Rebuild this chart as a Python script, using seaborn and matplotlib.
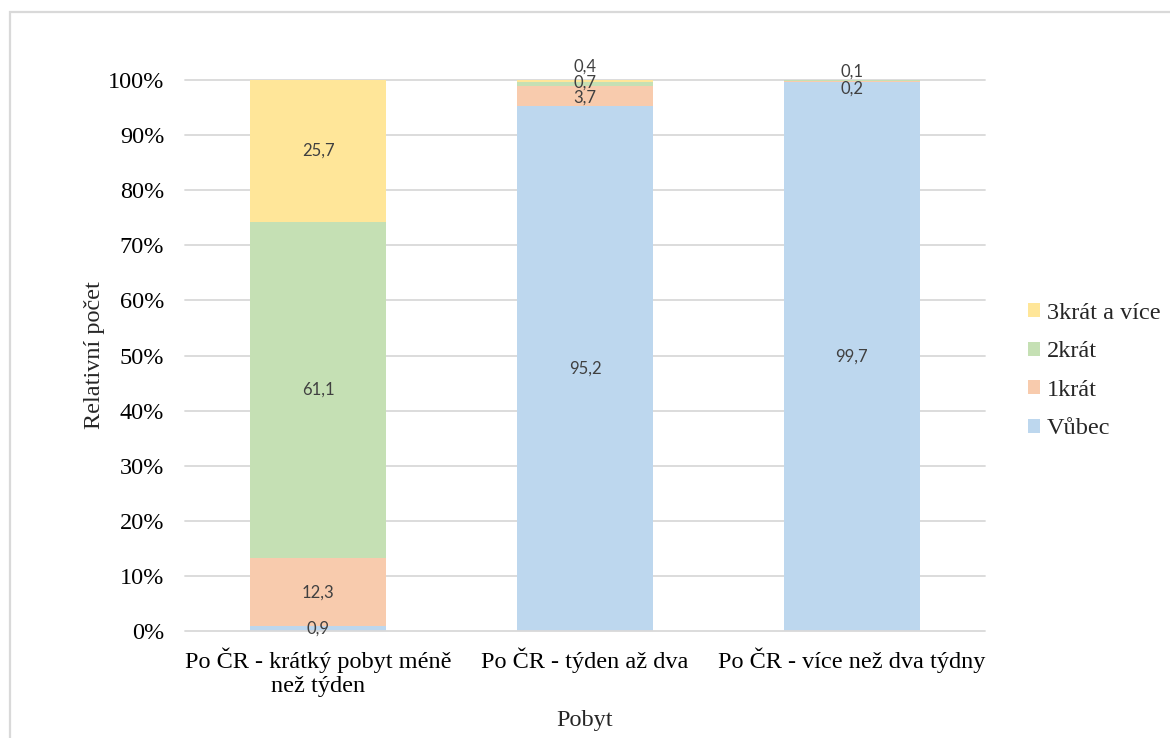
import numpy as np
import pandas as pd
import matplotlib
matplotlib.use("Agg")
import matplotlib.pyplot as plt
from matplotlib.patches import Patch, Rectangle
import seaborn as sns

# Stay categories and relative counts (%) for each answer
categories = [
    "Po ČR - krátký pobyt méně\nnež týden",
    "Po ČR - týden až dva",
    "Po ČR - více než dva týdny",
]
series_names = ["Vůbec", "1krát", "2krát", "3krát a více"]
vubec = [0.9, 95.2, 99.7]
jednou = [12.3, 3.7, 0.2]
dvakrat = [61.1, 0.7, 0.1]
trikrat = [25.7, 0.4, 0.0]

colors = ["#BDD7EE", "#F8CBAD", "#C5E0B4", "#FFE699"]
grid_color = "#D9D9D9"
fs = 17.5

sns.set_theme(style="white")
plt.rcParams["font.family"] = ["Liberation Serif", "DejaVu Serif"]

values = np.array([vubec, jednou, dvakrat, trikrat])
cum = np.cumsum(values, axis=0)

fig = plt.figure(figsize=(11.7, 7.38), dpi=100)
ax = fig.add_axes([185 / 1170, 1 - 631 / 738, 800 / 1170, 551 / 738])

# Stacked bars: draw cumulative totals from the top layer down
for i in range(len(series_names) - 1, -1, -1):
    df = pd.DataFrame({"Pobyt": categories, "value": cum[i]})
    sns.barplot(data=df, x="Pobyt", y="value", color=colors[i], width=0.51,
                saturation=1, linewidth=0, edgecolor="none", ax=ax, zorder=2)

ax.set_ylim(0, 100)
ax.set_xlim(-0.5, 2.5)
ax.set_yticks(np.arange(0, 101, 10))
ax.set_yticklabels([f"{v}%" for v in range(0, 101, 10)])
for y in range(10, 101, 10):
    ax.axhline(y, color=grid_color, lw=1.3, zorder=1, clip_on=False)
ax.axhline(0, color=grid_color, lw=1.3, zorder=3, clip_on=False)
for s in ax.spines.values():
    s.set_visible(False)
ax.tick_params(axis="both", length=0, labelsize=fs, colors="#000000")
ax.tick_params(axis="y", pad=15)
ax.tick_params(axis="x", pad=12)
for t in ax.get_xticklabels():
    t.set_multialignment("center")
    t.set_linespacing(1.2)

ax.set_xlabel("Pobyt", fontsize=fs, labelpad=9)
ax.set_ylabel("Relativní počet", fontsize=fs, labelpad=2)

# Value labels at segment centres; small segments nudged apart
offsets = {(1, 3): 14, (1, 2): 2, (1, 1): -1, (2, 1): -8, (2, 2): 9}
for i in range(len(series_names)):
    for j in range(len(categories)):
        v = values[i, j]
        if v <= 0:
            continue
        yc = cum[i, j] - v / 2
        dy = offsets.get((j, i), 0)
        ax.annotate(f"{v:.1f}".replace(".", ","), xy=(j, yc),
                    xytext=(0, dy), textcoords="offset pixels",
                    ha="center", va="center", fontsize=12,
                    family=["Lato", "DejaVu Sans"], color="#404040", zorder=5)

handles = [Patch(facecolor=colors[i], edgecolor="none", label=series_names[i])
           for i in range(len(series_names) - 1, -1, -1)]
leg = ax.legend(handles=handles, loc="center left",
                bbox_to_anchor=(1018 / 1170, 1 - 371 / 738),
                bbox_transform=fig.transFigure, frameon=False,
                fontsize=fs, handlelength=0.5, handleheight=0.5,
                handletextpad=0.3, labelspacing=0.72, borderaxespad=0)

# Light frame around the chart area
fig.patches.append(Rectangle((10 / 1170, -0.2), 1.3, 1.2 - 12 / 738,
                             transform=fig.transFigure, fill=False,
                             edgecolor=grid_color, lw=1.6, zorder=0))

fig.savefig("out.png", dpi=100)
